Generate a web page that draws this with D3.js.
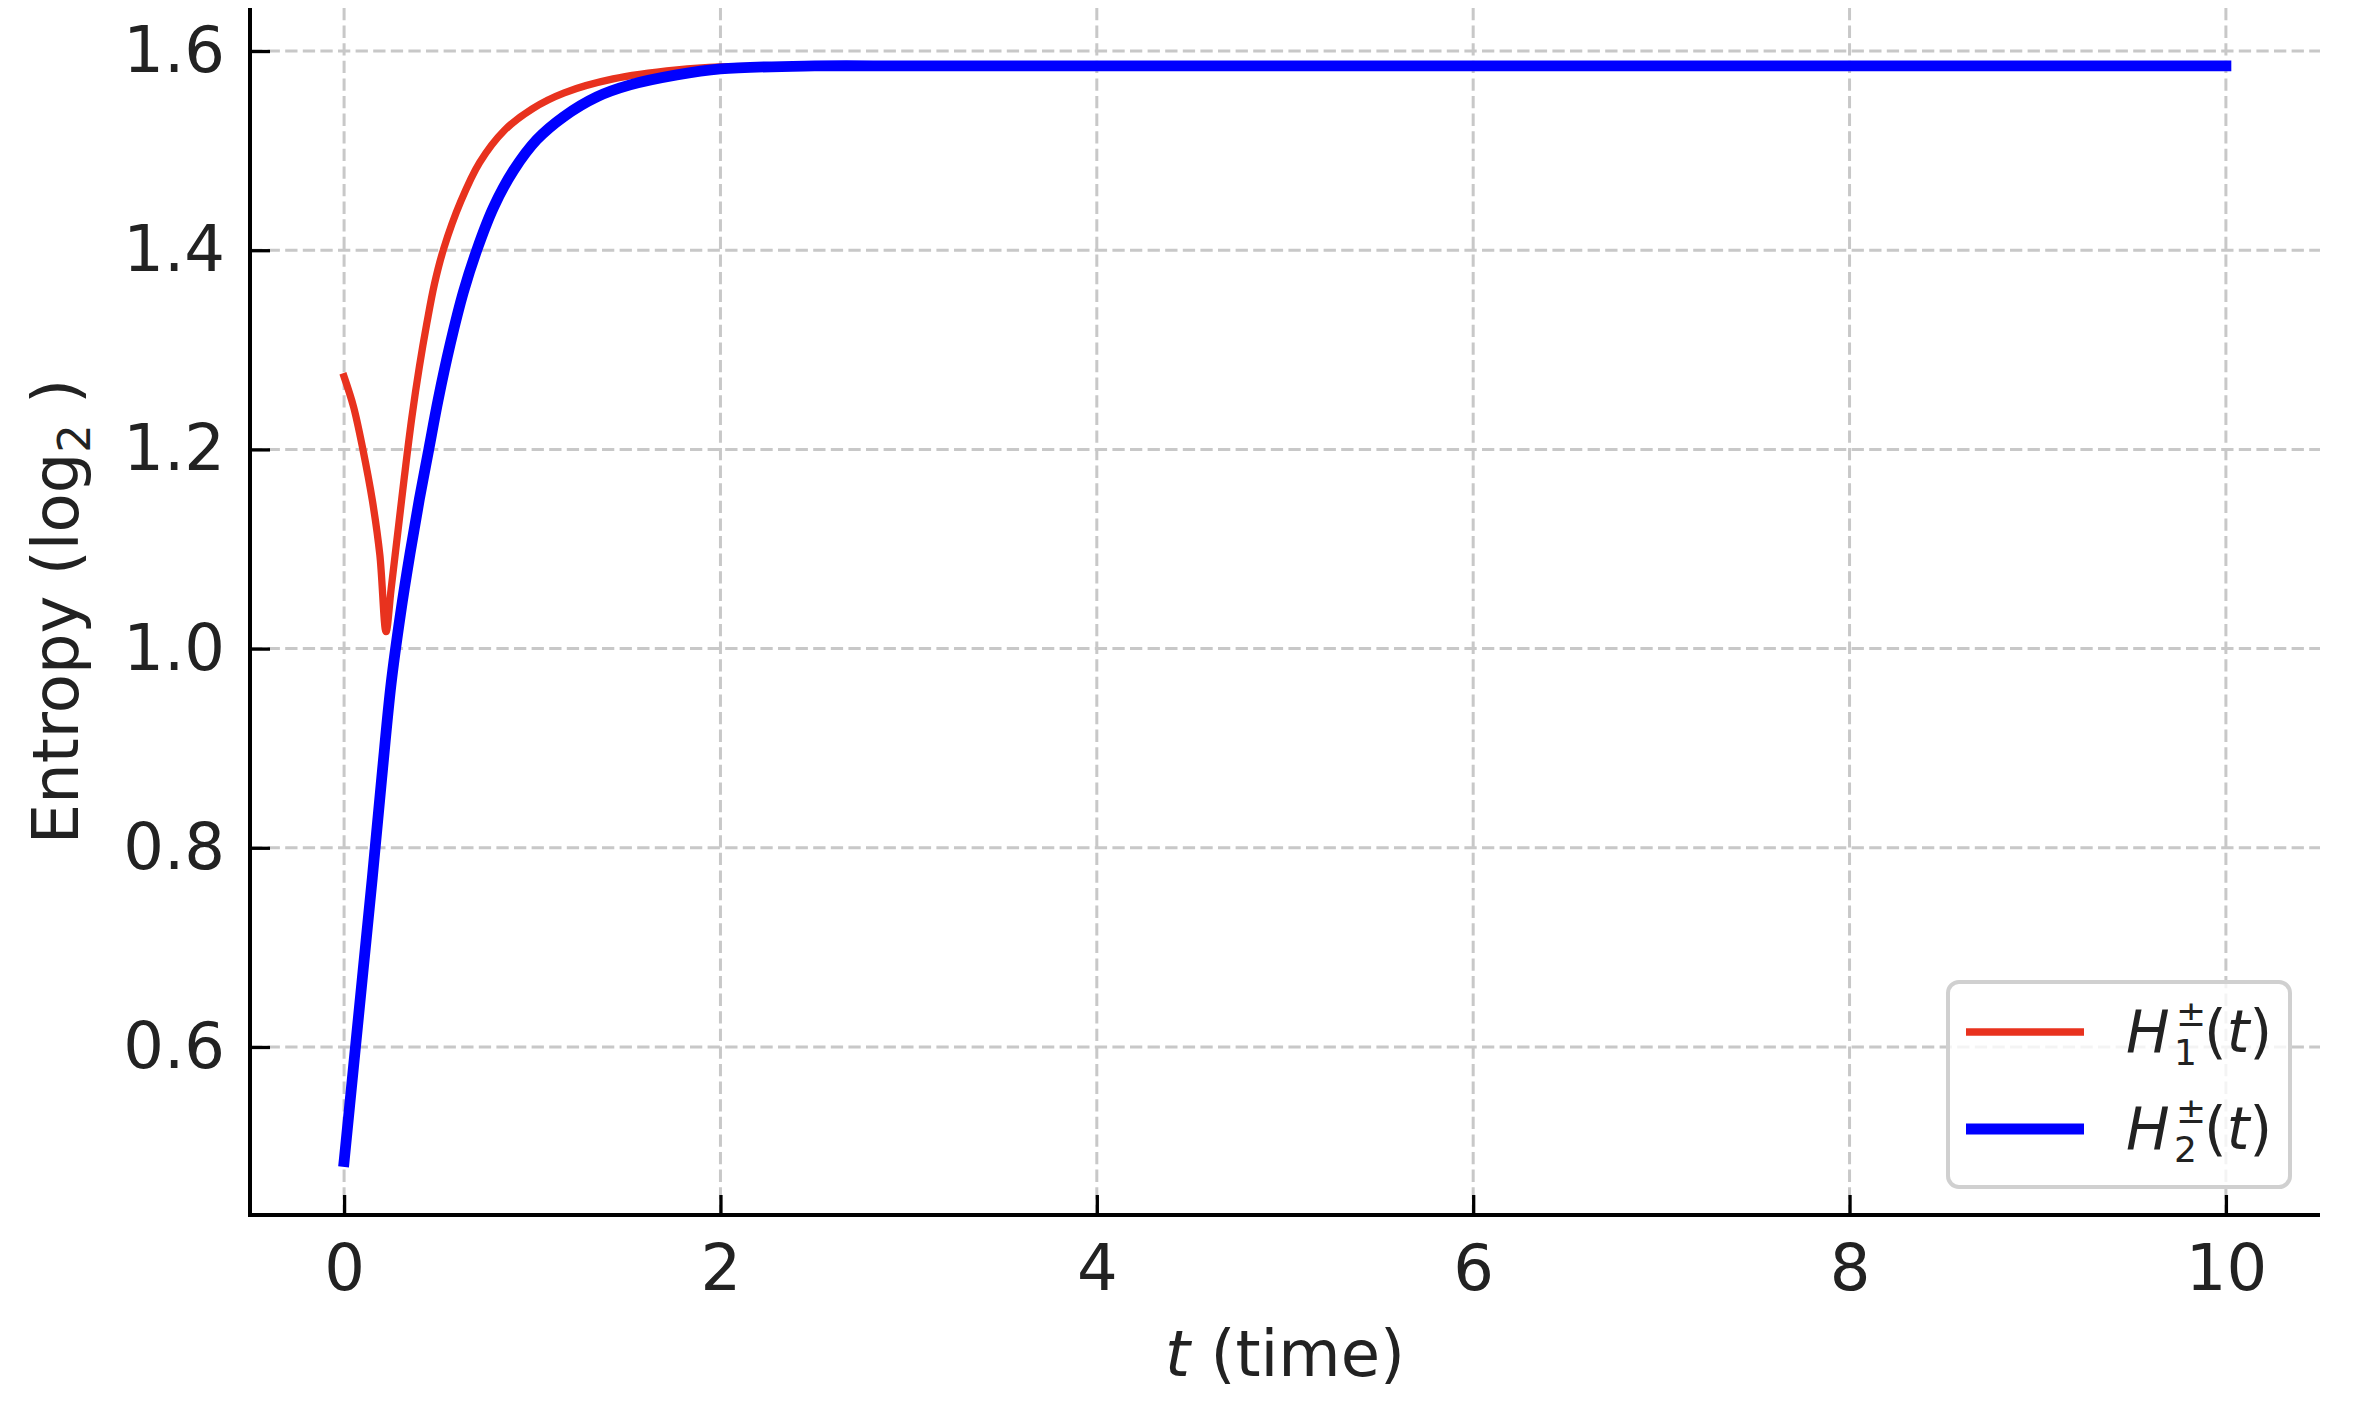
<!DOCTYPE html>
<html>
<head>
<meta charset="utf-8">
<script src="https://cdn.jsdelivr.net/npm/d3@7"></script>
<style>
  body { margin: 0; background: #fff; }
  text { font-family: "DejaVu Sans", sans-serif; fill: #222; }
</style>
</head>
<body>
<script>
// values
var tRed = [0, 0.05, 0.10, 0.15, 0.19, 0.223, 0.25, 0.29, 0.32, 0.36, 0.40, 0.44, 0.48, 0.53, 0.62, 0.72, 0.85, 1.0, 1.17, 1.43, 1.77, 2.0, 2.5, 3, 4, 5, 6, 7, 8, 9, 10];
var hRed = [1.273, 1.243, 1.200, 1.149, 1.094, 1.017, 1.060, 1.124, 1.172, 1.232, 1.283, 1.327, 1.366, 1.402, 1.449, 1.488, 1.520, 1.542, 1.558, 1.572, 1.581, 1.584, 1.585, 1.585, 1.585, 1.585, 1.585, 1.585, 1.585, 1.585, 1.585];

var tBlue = [0, 0.05, 0.10, 0.15, 0.20, 0.25, 0.30, 0.35, 0.40, 0.45, 0.50, 0.563, 0.634, 0.705, 0.794, 0.90, 1.024, 1.166, 1.343, 1.52, 1.768, 2.0, 2.5, 3, 4, 5, 6, 7, 8, 9, 10];
var hBlue = [0.485, 0.580, 0.675, 0.770, 0.870, 0.965, 1.035, 1.095, 1.150, 1.200, 1.250, 1.305, 1.358, 1.400, 1.443, 1.480, 1.511, 1.534, 1.554, 1.566, 1.576, 1.582, 1.585, 1.585, 1.585, 1.585, 1.585, 1.585, 1.585, 1.585, 1.585];

var xTicks = [0, 2, 4, 6, 8, 10];
var yTicks = [0.6, 0.8, 1.0, 1.2, 1.4, 1.6];
var seriesSubs = ["1", "2"];

var chartWidth = 2366;
var chartHeight = 1414;

var svg = d3.select("body")
    .append("svg")
    .attr("width", chartWidth)
    .attr("height", chartHeight);

var plotLeft = 250, plotRight = 2320, plotTop = 8, plotBottom = 1215;

var x = d3.scaleLinear().domain([-0.5, 10.5]).range([plotLeft, plotRight]);
var y = d3.scaleLinear().domain([0.4313, 1.6432]).range([plotBottom, plotTop]);

// grid
var grid = svg.append("g");
grid.selectAll(".vgrid")
    .data(xTicks)
    .enter()
    .append("line")
    .attr("x1", function(d) { return x(d); })
    .attr("x2", function(d) { return x(d); })
    .attr("y1", plotTop)
    .attr("y2", plotBottom)
    .attr("stroke", "#c8c8c8")
    .attr("stroke-width", 3)
    .attr("stroke-dasharray", "12.3,5.3");
grid.selectAll(".hgrid")
    .data(yTicks)
    .enter()
    .append("line")
    .attr("x1", plotLeft)
    .attr("x2", plotRight)
    .attr("y1", function(d) { return y(d); })
    .attr("y2", function(d) { return y(d); })
    .attr("stroke", "#c8c8c8")
    .attr("stroke-width", 3)
    .attr("stroke-dasharray", "12.3,5.3");

var line = d3.line()
    .x(function(d) { return x(d[0]); })
    .y(function(d) { return y(d[1]); })
    .curve(d3.curveCatmullRom.alpha(0.5));

svg.append("path")
    .datum(d3.zip(tRed, hRed))
    .attr("d", line)
    .attr("fill", "none")
    .attr("stroke", "#e8321e")
    .attr("stroke-width", 7.3)
    .attr("stroke-linecap", "square")
    .attr("stroke-linejoin", "round");

svg.append("path")
    .datum(d3.zip(tBlue, hBlue))
    .attr("d", line)
    .attr("fill", "none")
    .attr("stroke", "#0000ff")
    .attr("stroke-width", 10.8)
    .attr("stroke-linecap", "square")
    .attr("stroke-linejoin", "round");

// axes, ticks inward
var xAxis = d3.axisBottom(x).tickValues(xTicks).tickSizeInner(-20).tickSizeOuter(0).tickPadding(30)
    .tickFormat(d3.format("d"));
var gx = svg.append("g").attr("transform", "translate(0," + plotBottom + ")").call(xAxis);
var yAxis = d3.axisLeft(y).tickValues(yTicks).tickSizeInner(-20).tickSizeOuter(0).tickPadding(25)
    .tickFormat(d3.format(".1f"));
var gy = svg.append("g").attr("transform", "translate(" + plotLeft + ",0)").call(yAxis);

[gx, gy].forEach(function(g) {
    g.select(".domain").attr("stroke", "#000").attr("stroke-width", 4);
    g.selectAll(".tick line").attr("stroke", "#000").attr("stroke-width", 3.3);
    g.selectAll(".tick text").attr("font-size", 64).attr("font-family", "DejaVu Sans").attr("fill", "#222");
});
gx.select(".domain").attr("d", "M" + (plotLeft - 2) + ",0H" + plotRight);
gy.select(".domain").attr("d", "M0," + plotTop + "V" + (plotBottom + 2));
gx.selectAll(".tick text").attr("dy", "0.71em");

// axis labels
var xl = svg.append("text")
    .attr("x", (plotLeft + plotRight) / 2)
    .attr("y", 1376)
    .attr("text-anchor", "middle")
    .attr("font-size", 64);
xl.append("tspan").attr("font-style", "italic").text("t");
xl.append("tspan").text("\u00a0(time)");

var yl = svg.append("text")
    .attr("transform", "translate(78," + ((plotTop + plotBottom) / 2) + ") rotate(-90)")
    .attr("text-anchor", "middle")
    .attr("font-size", 64);
yl.append("tspan").text("Entropy (log");
yl.append("tspan").attr("font-size", 45).attr("dy", 12).text("2");
yl.append("tspan").attr("dy", -12).text("\u00a0)");

// legend
var legend = svg.append("g");
legend.append("rect")
    .attr("x", 1948)
    .attr("y", 982)
    .attr("width", 342)
    .attr("height", 205)
    .attr("rx", 11)
    .attr("fill", "rgba(255,255,255,0.8)")
    .attr("stroke", "#d0d0d0")
    .attr("stroke-width", 4);

var legendColors = ["#e8321e", "#0000ff"];
var legendWidths = [7.3, 10.8];

seriesSubs.forEach(function(s, i) {
    var ly = 1032 + i * 97;
    legend.append("line")
        .attr("x1", 1966).attr("x2", 2084)
        .attr("y1", ly).attr("y2", ly)
        .attr("stroke", legendColors[i])
        .attr("stroke-width", legendWidths[i]);
    var base = ly + 20;
    legend.append("text")
        .attr("x", 2126).attr("y", base)
        .attr("font-size", 58).attr("font-style", "italic")
        .text("H");
    legend.append("text")
        .attr("x", 2176).attr("y", base - 26)
        .attr("font-size", 36)
        .text("\u00b1");
    legend.append("text")
        .attr("x", 2174).attr("y", base + 13)
        .attr("font-size", 36)
        .text(s);
    var tt = legend.append("text")
        .attr("x", 2204).attr("y", base)
        .attr("font-size", 58);
    tt.append("tspan").text("(");
    tt.append("tspan").attr("font-style", "italic").text("t");
    tt.append("tspan").text(")");
});
</script>
</body>
</html>
